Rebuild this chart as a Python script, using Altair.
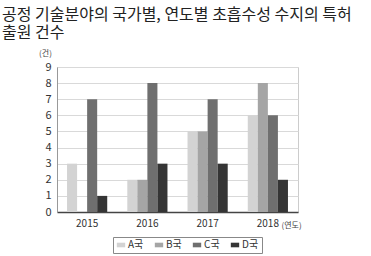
import altair as alt
import pandas as pd

years = ["2015", "2016", "2017", "2018"]
countries = ["A국", "B국", "C국", "D국"]
vals_A = [3, 2, 5, 6]
vals_B = [0, 2, 5, 8]
vals_C = [7, 8, 7, 6]
vals_D = [1, 3, 3, 2]
colors = ["#d3d3d3", "#a5a5a5", "#6f6f6f", "#353535"]

rows = []
for c, vals in zip(countries, [vals_A, vals_B, vals_C, vals_D]):
    for y, v in zip(years, vals):
        rows.append({"year": y, "country": c, "value": v})
df = pd.DataFrame(rows)

font = "Noto Sans CJK KR"

chart = alt.Chart(df).mark_bar().encode(
    x=alt.X("year:N", sort=years,
            scale=alt.Scale(paddingInner=0.333, paddingOuter=0.1667),
            axis=alt.Axis(title="(연도)", labelAngle=0, labelFontSize=10, labelColor="#333",
                          labelFont=font, ticks=False, domainColor="#444", domainWidth=1.5,
                          labelPadding=6, titleFontSize=8, titleFontWeight="normal",
                          titleColor="#444", titleFont=font, titleX=224, titleY=13,
                          titleAlign="left", titleBaseline="middle")),
    xOffset=alt.XOffset("country:N", sort=countries,
                        scale=alt.Scale(paddingInner=0, paddingOuter=0)),
    y=alt.Y("value:Q", scale=alt.Scale(domain=[0, 9]),
            axis=alt.Axis(title="(건)", titleAngle=0, titleX=-12, titleY=-10,
                          titleFontSize=8, titleFontWeight="normal", titleColor="#444",
                          titleFont=font, titleAlign="center",
                          values=list(range(10)), tickCount=10, format="d",
                          labelFontSize=11, labelColor="#333", labelFont=font,
                          ticks=False, labelPadding=6, domainColor="#999",
                          gridColor="#d9d9d9", gridWidth=1.2)),
    color=alt.Color("country:N", sort=countries,
                    scale=alt.Scale(domain=countries, range=colors),
                    legend=alt.Legend(title=None, orient="none", direction="horizontal",
                                      legendX=56, legendY=170,
                                      symbolType="M-1,-0.55L1,-0.55L1,0.55L-1,0.55Z",
                                      symbolSize=70, symbolStrokeWidth=0,
                                      labelFontSize=10, labelFont=font, labelColor="#333",
                                      strokeColor="#888", padding=3, columnPadding=10,
                                      labelOffset=2)),
).properties(
    width=241, height=145,
    title=alt.TitleParams(text=["공정 기술분야의 국가별, 연도별 초흡수성 수지의 특허", "출원 건수"],
                          anchor="start", frame="group", dx=-55, offset=8,
                          fontSize=16, lineHeight=18, font=font, fontWeight="normal",
                          color="#222"),
    autosize=alt.AutoSizeParams(type="none"),
    padding={"left": 57, "top": 67, "right": 73, "bottom": 44},
).configure_view(stroke="#cccccc", strokeWidth=1)

chart.save("out.html", embed_options={"renderer": "svg", "actions": False})
